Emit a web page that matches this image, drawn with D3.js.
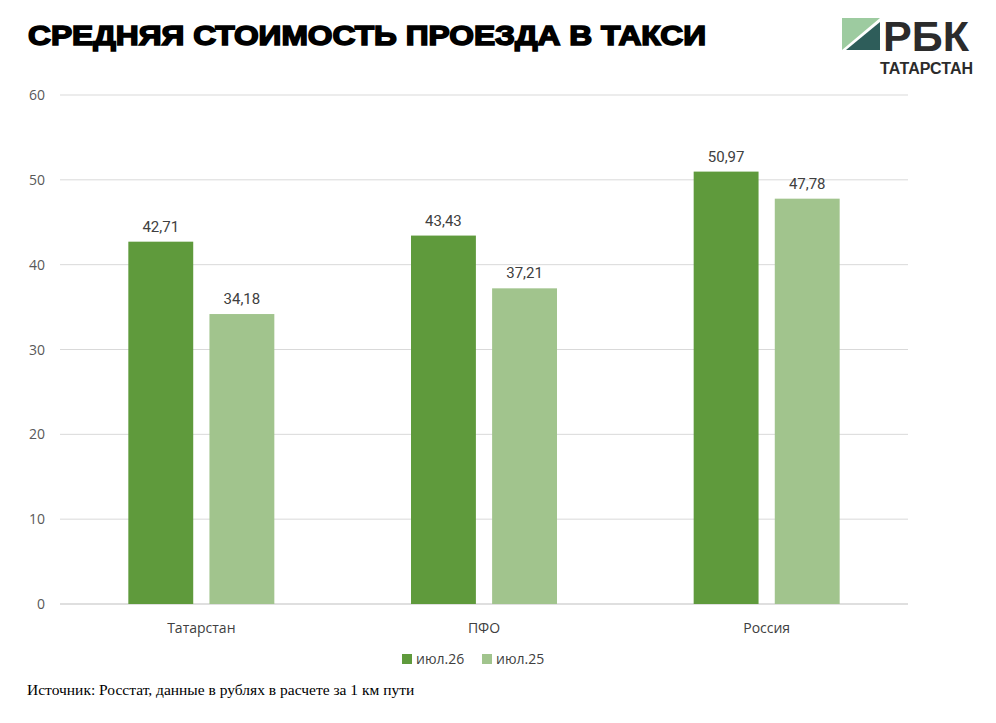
<!DOCTYPE html>
<html><head><meta charset="utf-8">
<script src="https://cdn.jsdelivr.net/npm/d3@7"></script>
<style>body{margin:0;background:#fff}</style>
</head><body><div id="chart"></div>
<script>
var categories = ["Татарстан", "ПФО", "Россия"];
var seriesNames = ["июл.26", "июл.25"];
var jul26 = [42.71, 43.43, 50.97];
var jul25 = [34.18, 37.21, 47.78];
var yTicks = [0, 10, 20, 30, 40, 50, 60];
var colors = ["#5f9a3c", "#a1c48d"];

var svg = d3.select("#chart").append("svg").attr("width", 996).attr("height", 723);

var x = d3.scaleBand().domain(categories).range([60, 908]);
var y = d3.scaleLinear().domain([0, 60]).range([604, 95]);
var inner = d3.scaleBand().domain([0, 1]).range([-73, 73]).paddingInner(0.2);

svg.append("text").attr("x", 28).attr("y", 45)
  .attr("font-family", "Liberation Sans, Arial").attr("font-weight", "900")
  .attr("font-size", 28).attr("stroke", "#000").attr("stroke-width", 1.6)
  .attr("textLength", 678).attr("lengthAdjust", "spacingAndGlyphs")
  .text("СРЕДНЯЯ СТОИМОСТЬ ПРОЕЗДА В ТАКСИ");

// logo
var logo = svg.append("g").attr("transform", "translate(842,18)");
logo.append("path").attr("d", "M0,0 H38 L0,32 Z").attr("fill", "#9dcba0");
logo.append("path").attr("d", "M38,4 V32 H4 Z").attr("fill", "#2e5d5a");
logo.append("text").attr("x", 41).attr("y", 33).attr("font-family", "Liberation Sans, Arial")
  .attr("font-weight", "bold").attr("font-size", 42).attr("fill", "#2b2b2b")
  .attr("textLength", 86).attr("lengthAdjust", "spacingAndGlyphs").text("РБК");
logo.append("text").attr("x", 38).attr("y", 56).attr("font-family", "Liberation Sans, Arial")
  .attr("font-weight", "bold").attr("font-size", 16).attr("fill", "#2b2b2b").text("ТАТАРСТАН");

svg.append("g").selectAll("line").data(yTicks).enter().append("line")
  .attr("x1", 60).attr("x2", 908).attr("y1", d => y(d)).attr("y2", d => y(d))
  .attr("stroke", d => d === 0 ? "#bfbfbf" : "#d9d9d9");
svg.append("g").selectAll("text").data(yTicks).enter().append("text")
  .attr("x", 45).attr("y", d => y(d) + 5).attr("text-anchor", "end")
  .attr("font-family", "Open Sans, sans-serif").attr("font-size", 14).attr("fill", "#595959")
  .text(d => d);

[jul26, jul25].forEach(function(vals, s) {
  var g = svg.append("g");
  g.selectAll("rect").data(vals).enter().append("rect")
    .attr("x", (d, i) => x(categories[i]) + x.bandwidth() / 2 + inner(s))
    .attr("width", inner.bandwidth())
    .attr("y", d => y(d)).attr("height", d => y(0) - y(d))
    .attr("fill", colors[s]);
  g.selectAll("text").data(vals).enter().append("text")
    .attr("x", (d, i) => x(categories[i]) + x.bandwidth() / 2 + inner(s) + inner.bandwidth() / 2)
    .attr("y", d => y(d) - 10).attr("text-anchor", "middle")
    .attr("font-family", "Roboto, sans-serif").attr("font-size", 15).attr("fill", "#404040")
    .text(d => d.toFixed(2).replace(".", ","));
});

svg.append("g").selectAll("text").data(categories).enter().append("text")
  .attr("x", d => x(d) + x.bandwidth() / 2).attr("y", 633).attr("text-anchor", "middle")
  .attr("font-family", "Open Sans, sans-serif").attr("font-size", 14).attr("fill", "#404040")
  .text(d => d);

var leg = svg.append("g").selectAll("g").data(seriesNames).enter().append("g")
  .attr("transform", (d, i) => `translate(${402 + i * 80},654)`);
leg.append("rect").attr("width", 10).attr("height", 10).attr("fill", (d, i) => colors[i]);
leg.append("text").attr("x", 14).attr("y", 10).attr("font-family", "Open Sans, sans-serif")
  .attr("font-size", 14).attr("fill", "#404040").text(d => d);

svg.append("text").attr("x", 27).attr("y", 695).attr("font-family", "Liberation Serif, serif")
  .attr("font-size", 15.5).attr("fill", "#000")
  .text("Источник: Росстат, данные в рублях в расчете за 1 км пути");
</script></body></html>
